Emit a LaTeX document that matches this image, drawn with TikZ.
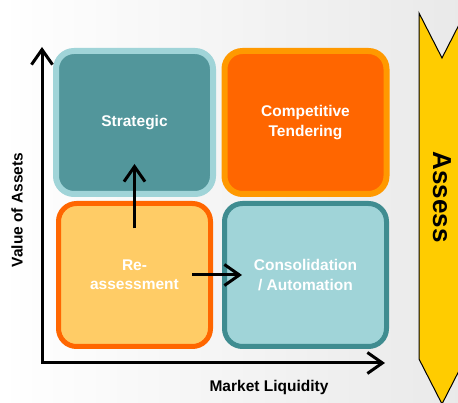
\documentclass[tikz,border=0pt]{standalone}
\usepackage{fontspec}
\setmainfont{Liberation Sans}
\usetikzlibrary{arrows.meta}
\definecolor{tealdark}{HTML}{52969B}
\definecolor{teallight}{HTML}{A0D4D8}
\definecolor{tealedge}{HTML}{3F8C90}
\definecolor{orangedark}{HTML}{FF6600}
\definecolor{orangelight}{HTML}{FF9900}
\definecolor{sand}{HTML}{FFCC66}
\definecolor{assessyellow}{HTML}{FFCC00}
\begin{document}
\begin{tikzpicture}[x=1pt, y=1pt]

	\tikzstyle{box} = [draw, rounded corners=18pt, outer sep=0pt, text=white, align=center, font=\bfseries\fontsize{15.5}{19.5}\selectfont];
	\tikzstyle{flow} = [line width=3pt, -{Straight Barb[length=15pt, width=21pt]}];
	\tikzstyle{axis} = [line width=3pt, {Straight Barb[length=15pt, width=21pt]}-{Straight Barb[length=15pt, width=21pt]}];
	\tikzstyle{axislabel} = [font=\bfseries\fontsize{15.5}{19.5}\selectfont];

	\useasboundingbox (0,0) rectangle (458,403);
	\clip (0,0) rectangle (458,403);
	\shade[left color=white, right color=gray!17] (0,0) rectangle (458,403);

	\node[box, fill=tealdark, draw=teallight, line width=6pt, minimum width=157pt, minimum height=143pt] (strategic) at (134.5,280.5) {Strategic};
	\node[box, fill=orangedark, draw=orangelight, line width=6pt, minimum width=162pt, minimum height=143pt, right of=strategic, node distance=171pt] (tender) {Competitive\\Tendering};
	\node[box, fill=sand, draw=orangedark, line width=5pt, minimum width=152pt, minimum height=143pt, below of=strategic, node distance=152.5pt] (reassess) {Re-\\assessment};
	\node[box, fill=teallight, draw=tealedge, line width=5pt, minimum width=162pt, minimum height=143pt, right of=reassess, node distance=171pt] (consol) {Consolidation\\/ Automation};

	\coordinate (origin) at (42,40);
	\coordinate (ytop) at (42,356);
	\coordinate (xend) at (385,40);
	\draw[axis] (ytop) -- (origin) -- (xend);

	\draw[flow] ([yshift=-25pt]reassess.north) -- ([yshift=30pt]strategic.south);
	\draw[flow] ([xshift=-18.5pt]reassess.east) -- ([xshift=17.5pt]consol.west);

	\node[axislabel, rotate=90] (valuelabel) at (17,193) {Value of Assets};
	\node[axislabel] (marketlabel) at (269,16) {Market Liquidity};

	\filldraw[fill=assessyellow, draw=black, line width=1pt] (419,390) -- (442,345) -- (465,390) -- (465,44) -- (442,-1) -- (419,44) -- cycle;
	\node[rotate=-90, font=\bfseries\fontsize{26}{30}\selectfont] (assess) at (442,206) {Assess};

\end{tikzpicture}
\end{document}
